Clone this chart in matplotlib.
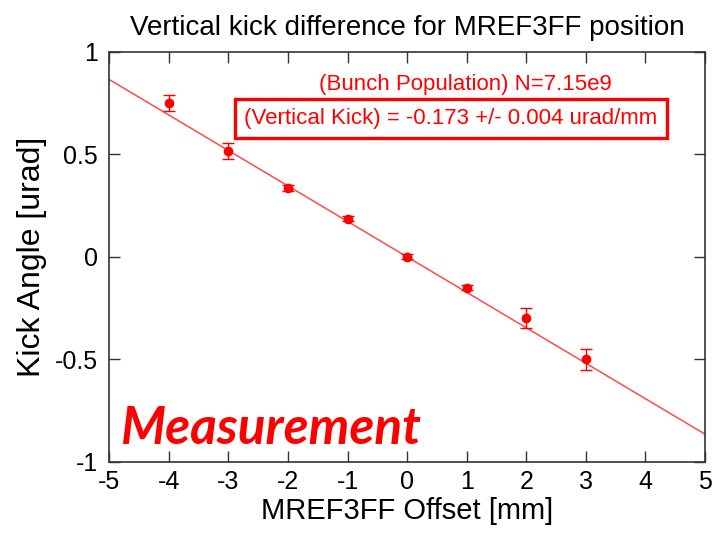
import matplotlib.pyplot as plt

# offset [mm] and measured kick angle [urad]
offset = [-4, -3, -2, -1, 0, 1, 2, 3]
kick = [0.75, 0.516, 0.336, 0.185, 0.0, -0.15, -0.297, -0.50]
kick_err = [0.039, 0.037, 0.013, 0.012, 0.012, 0.014, 0.049, 0.053]

# linear fit shown in the plot
fit_slope = -0.173
fit_intercept = 0.0
fit_x = [-5, 5]

plt.rcParams['font.family'] = ['Liberation Sans', 'DejaVu Sans']
plt.rcParams['axes.unicode_minus'] = False

fig = plt.figure(figsize=(7.18, 5.34), dpi=100)
ax = fig.add_axes([0.152, 0.135, 0.830, 0.768])

ax.plot(fit_x, [fit_slope * x + fit_intercept for x in fit_x],
        color='#ff4a4a', lw=1.1)
ax.errorbar(offset, kick, yerr=kick_err, fmt='o', color='red', ms=6,
            elinewidth=1.0, capsize=4, capthick=1.0)

ax.set_xlim(-5, 5)
ax.set_ylim(-1, 1)
ax.set_xticks(range(-5, 6))
ax.set_yticks([-1, -0.5, 0, 0.5, 1])
ax.set_yticklabels(['-1', '-0.5', '0', '0.5', '1'])
ax.tick_params(direction='in', top=True, right=True, length=8,
               labelsize=18, width=1, color='#333333')
ax.tick_params(axis='x', pad=6)
ax.tick_params(axis='y', pad=8)
for s in ax.spines.values():
    s.set_color('#333333')
    s.set_linewidth(1.2)

ax.set_xlabel('MREF3FF Offset [mm]', fontsize=21, labelpad=2)
ax.set_ylabel('Kick Angle [urad]', fontsize=23, labelpad=6)
ax.set_title('Vertical kick difference for MREF3FF position', fontsize=20, pad=12)

ax.text(0.598, 0.92, '(Bunch Population) N=7.15e9', transform=ax.transAxes,
        ha='center', va='center', color='red', fontsize=16)
ax.text(0.573, 0.837, '(Vertical Kick) = -0.173 +/- 0.004 urad/mm',
        transform=ax.transAxes, ha='center', va='center', color='red',
        fontsize=16,
        bbox=dict(boxstyle='square,pad=0.42', fc='white', ec='red', lw=2.4))

ax.text(0.018, 0.078, 'Measurement', transform=ax.transAxes, ha='left',
        va='center', color='red', fontsize=37, fontweight='bold',
        fontstyle='italic', family='Lato')

fig.savefig('out.png', dpi=100)
